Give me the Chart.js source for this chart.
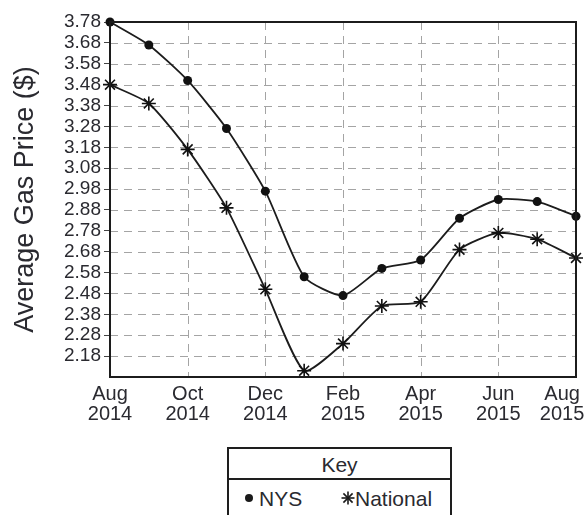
<!DOCTYPE html>
<html>
<head>
<meta charset="utf-8">
<script src="https://cdn.jsdelivr.net/npm/chart.js@4/dist/chart.umd.min.js"></script>
<style>
  html, body { margin: 0; padding: 0; background: #fff; }
  #wrap { position: relative; width: 585px; height: 515px; overflow: hidden; }
  #c { position: absolute; left: 0; top: 0; }
  #key { position: absolute; left: 227px; top: 447px; width: 221px; height: 90px;
         border: 2px solid #1e1e1e; font-family: "Liberation Sans", Arial, sans-serif; color: #2a2a30; background: #fff; }
  #key .hd { height: 29px; border-bottom: 2px solid #1e1e1e; text-align: center; font-size: 21px; line-height: 31px; }
  #key .t { position: absolute; font-size: 21px; line-height: 24px; top: 38px; white-space: nowrap; }
  #key svg { position: absolute; }
</style>
</head>
<body>
<div id="wrap">
  <canvas id="c" width="585" height="515"></canvas>
  <div id="key">
    <div class="hd">Key</div>
    <svg style="left:15px; top:44px" width="10" height="10"><circle cx="5" cy="5" r="4" fill="#1a1a1a"/></svg>
    <span class="t" style="left:30px">NYS</span>
    <svg style="left:111px; top:41px" width="16" height="16">
      <g stroke="#1a1a1a" stroke-width="1.6">
        <line x1="8" y1="1.5" x2="8" y2="14.5"/><line x1="1.5" y1="8" x2="14.5" y2="8"/>
        <line x1="3.4" y1="3.4" x2="12.6" y2="12.6"/><line x1="3.4" y1="12.6" x2="12.6" y2="3.4"/>
      </g>
    </svg>
    <span class="t" style="left:126px">National</span>
  </div>
</div>
<script>
// ---- data ----
const months = ['Aug 2014','Sep 2014','Oct 2014','Nov 2014','Dec 2014','Jan 2015','Feb 2015','Mar 2015','Apr 2015','May 2015','Jun 2015','Jul 2015','Aug 2015'];
const nysPrices = [3.78, 3.67, 3.50, 3.27, 2.97, 2.56, 2.47, 2.60, 2.64, 2.84, 2.93, 2.92, 2.85];
const nationalPrices = [3.48, 3.39, 3.17, 2.89, 2.50, 2.11, 2.24, 2.42, 2.44, 2.69, 2.77, 2.74, 2.65];
const yTickLabels = ['2.18','2.28','2.38','2.48','2.58','2.68','2.78','2.88','2.98','3.08','3.18','3.28','3.38','3.48','3.58','3.68','3.78'];
// last label carries trailing spaces so it sits inside the page edge, as in the source
const xTickLabels = { 0: ['Aug','2014'], 2: ['Oct','2014'], 4: ['Dec','2014'], 6: ['Feb','2015'], 8: ['Apr','2015'], 10: ['Jun','2015'], 12: ['Aug     ','2015     '] };

const toPts = arr => arr.map((v, i) => ({ x: i, y: v }));
const ink = '#1c1c1c';
const txt = '#2a2a30';
const fam = '"Liberation Sans", Arial, sans-serif';

const dashedGrid = {
  id: 'dashedGrid',
  beforeDatasetsDraw(chart) {
    const { ctx, chartArea: a, scales: { x, y } } = chart;
    ctx.save();
    ctx.strokeStyle = '#a4a4a4';
    ctx.lineWidth = 1;
    ctx.setLineDash([8, 6]);
    y.ticks.forEach(t => {
      const py = Math.round(y.getPixelForValue(t.value)) + 0.5;
      if (py <= a.top + 1 || py >= a.bottom - 1) return;
      ctx.beginPath(); ctx.moveTo(a.left, py); ctx.lineTo(a.right, py); ctx.stroke();
    });
    x.ticks.forEach(t => {
      const px = Math.round(x.getPixelForValue(t.value)) + 0.5;
      if (px <= a.left + 1 || px >= a.right - 1) return;
      ctx.beginPath(); ctx.moveTo(px, a.top); ctx.lineTo(px, a.bottom); ctx.stroke();
    });
    ctx.restore();
  },
  afterDatasetsDraw(chart) {
    const { ctx, chartArea: a } = chart;
    ctx.save();
    ctx.strokeStyle = ink;
    ctx.lineWidth = 2;
    ctx.strokeRect(a.left, a.top, a.right - a.left, a.bottom - a.top);
    ctx.restore();
  }
};

new Chart(document.getElementById('c'), {
  type: 'line',
  data: {
    datasets: [
      { label: 'NYS', data: toPts(nysPrices), borderColor: ink, backgroundColor: ink, clip: false,
        borderWidth: 1.8, pointStyle: 'circle', pointRadius: 4.5, pointBorderWidth: 0,
        pointBackgroundColor: '#111', tension: 0.2 },
      { label: 'National', data: toPts(nationalPrices), borderColor: ink, backgroundColor: ink, clip: false,
        borderWidth: 1.8, pointStyle: 'star', pointRadius: 7, pointBorderWidth: 1.6,
        pointBorderColor: '#111', tension: 0.2 }
    ]
  },
  options: {
    responsive: false,
    animation: false,
    layout: { padding: { top: 22, right: 9, left: 0, bottom: 0 } },
    plugins: { legend: { display: false }, tooltip: { enabled: false } },
    scales: {
      x: {
        type: 'linear', min: 0, max: months.length - 1,
        afterBuildTicks: s => { s.ticks = Object.keys(xTickLabels).map(k => ({ value: +k })); },
        afterFit: s => { s.height = 138; s.paddingLeft = 0; s.paddingRight = 0; },
        ticks: { callback: v => xTickLabels[v] || '', color: txt, padding: -1, maxRotation: 0, autoSkip: false,
                 font: { family: fam, size: 20, lineHeight: 1.0 } },
        grid: { display: false },
        border: { display: false }
      },
      y: {
        type: 'linear', min: 2.08, max: 3.78,
        afterBuildTicks: s => { s.ticks = yTickLabels.map(t => ({ value: parseFloat(t) })); },
        afterFit: s => { s.width = 110; s.paddingTop = 0; s.paddingBottom = 0; },
        ticks: { callback: v => yTickLabels.find(t => Math.abs(parseFloat(t) - v) < 1e-6) || '',
                 color: txt, padding: 3, autoSkip: false, font: { family: fam, size: 19 } },
        grid: { drawOnChartArea: false, color: '#444', tickColor: '#444', tickLength: 6, lineWidth: 1 },
        border: { display: false },
        title: { display: true, text: 'Average Gas Price ($)', color: txt,
                 font: { family: fam, size: 27, lineHeight: 1.0 },
                 padding: { top: 12, bottom: 0 } }
      }
    }
  },
  plugins: [dashedGrid]
});
</script>
</body>
</html>
